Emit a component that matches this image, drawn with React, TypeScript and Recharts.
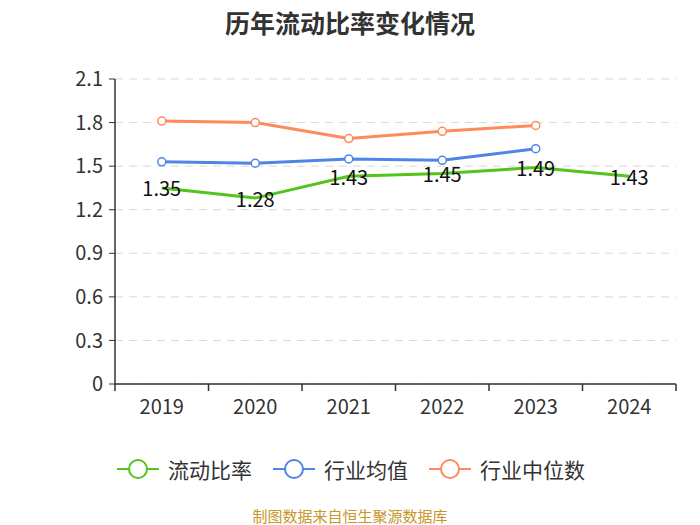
import React from "react";
import {
  LineChart,
  Line,
  XAxis,
  YAxis,
  CartesianGrid,
  LabelList,
} from "recharts";

const years = ["2019", "2020", "2021", "2022", "2023", "2024"];
const currentRatio = [1.35, 1.28, 1.43, 1.45, 1.49, 1.43];
const industryMean = [1.53, 1.52, 1.55, 1.54, 1.62, null];
const industryMedian = [1.81, 1.8, 1.69, 1.74, 1.78, null];
const yTicks = [0, 0.3, 0.6, 0.9, 1.2, 1.5, 1.8, 2.1];

const GREEN = "#52c41a";
const BLUE = "#4e86e8";
const ORANGE = "#ff8a5b";
const FONT = '"Noto Sans CJK SC", "Noto Sans", sans-serif';

const data = years.map((y, i) => ({
  x: i + 0.5,
  year: y,
  ratio: currentRatio[i],
  mean: industryMean[i],
  median: industryMedian[i],
}));

const legendItems = [
  { name: "流动比率", color: GREEN },
  { name: "行业均值", color: BLUE },
  { name: "行业中位数", color: ORANGE },
];

function ValueLabel(props: any) {
  const { x, y, value } = props;
  if (value == null) return null;
  return (
    <text
      x={x}
      y={y}
      textAnchor="middle"
      dominantBaseline="central"
      fontSize={20}
      fill="#111"
      fontFamily={FONT}
    >
      {value.toFixed(2)}
    </text>
  );
}

export default function App() {
  return (
    <div
      style={{
        position: "absolute",
        left: 0,
        top: 0,
        width: 700,
        height: 525,
        background: "#fff",
        fontFamily: FONT,
      }}
    >
      <div
        style={{
          position: "absolute",
          top: 4,
          width: 700,
          textAlign: "center",
          fontSize: 25,
          lineHeight: "36px",
          fontWeight: "bold",
          color: "#333",
        }}
      >
        历年流动比率变化情况
      </div>
      <LineChart
        width={700}
        height={525}
        data={data}
        margin={{ top: 79, right: 24, bottom: 100, left: 55 }}
      >
        <CartesianGrid
          vertical={false}
          stroke="#d9d9d9"
          strokeDasharray="8 6"
        />
        <XAxis
          xAxisId="grid"
          dataKey="x"
          type="number"
          domain={[0, 6]}
          ticks={[0, 1, 2, 3, 4, 5, 6]}
          tickFormatter={() => ""}
          axisLine={{ stroke: "#333", strokeWidth: 1.5 }}
          tickLine={{ stroke: "#333", strokeWidth: 1.5 }}
          tickSize={7}
          height={1}
        />
        <XAxis
          xAxisId="lbl"
          dataKey="x"
          type="number"
          domain={[0, 6]}
          ticks={[0.5, 1.5, 2.5, 3.5, 4.5, 5.5]}
          tickFormatter={(v: number) => years[Math.floor(v)]}
          tickLine={false}
          axisLine={false}
          tick={{ fontSize: 20, fill: "#333", fontFamily: FONT }}
          tickMargin={9}
          height={40}
        />
        <YAxis
          domain={[0, 2.1]}
          ticks={yTicks}
          interval={0}
          axisLine={{ stroke: "#333", strokeWidth: 1.5 }}
          tickLine={{ stroke: "#333" }}
          tickSize={6}
          tick={{ fontSize: 20, fill: "#333", fontFamily: FONT }}
          tickMargin={6}
          width={60}
        />
        <Line
          xAxisId="lbl"
          dataKey="ratio"
          stroke={GREEN}
          strokeWidth={3}
          dot={false}
          isAnimationActive={false}
        >
          <LabelList dataKey="ratio" content={<ValueLabel />} />
        </Line>
        <Line
          xAxisId="lbl"
          dataKey="mean"
          stroke={BLUE}
          strokeWidth={3}
          dot={{ r: 4, fill: "#fff", stroke: BLUE, strokeWidth: 1.5 }}
          isAnimationActive={false}
        />
        <Line
          xAxisId="lbl"
          dataKey="median"
          stroke={ORANGE}
          strokeWidth={3}
          dot={{ r: 4, fill: "#fff", stroke: ORANGE, strokeWidth: 1.5 }}
          isAnimationActive={false}
        />
      </LineChart>
      <div
        style={{
          position: "absolute",
          top: 454,
          left: 117,
          display: "flex",
          alignItems: "center",
          fontSize: 21,
          color: "#333",
        }}
      >
        {legendItems.map((it) => (
          <div
            key={it.name}
            style={{ display: "flex", alignItems: "center", marginRight: 21 }}
          >
            <svg width={42} height={24}>
              <line x1={0} y1={12} x2={42} y2={12} stroke={it.color} strokeWidth={2} />
              <circle cx={21} cy={12} r={9} fill="#fff" stroke={it.color} strokeWidth={2} />
            </svg>
            <span style={{ marginLeft: 9 }}>{it.name}</span>
          </div>
        ))}
      </div>
      <div
        style={{
          position: "absolute",
          top: 505,
          width: 700,
          textAlign: "center",
          fontSize: 15,
          color: "#c8962a",
        }}
      >
        制图数据来自恒生聚源数据库
      </div>
    </div>
  );
}
